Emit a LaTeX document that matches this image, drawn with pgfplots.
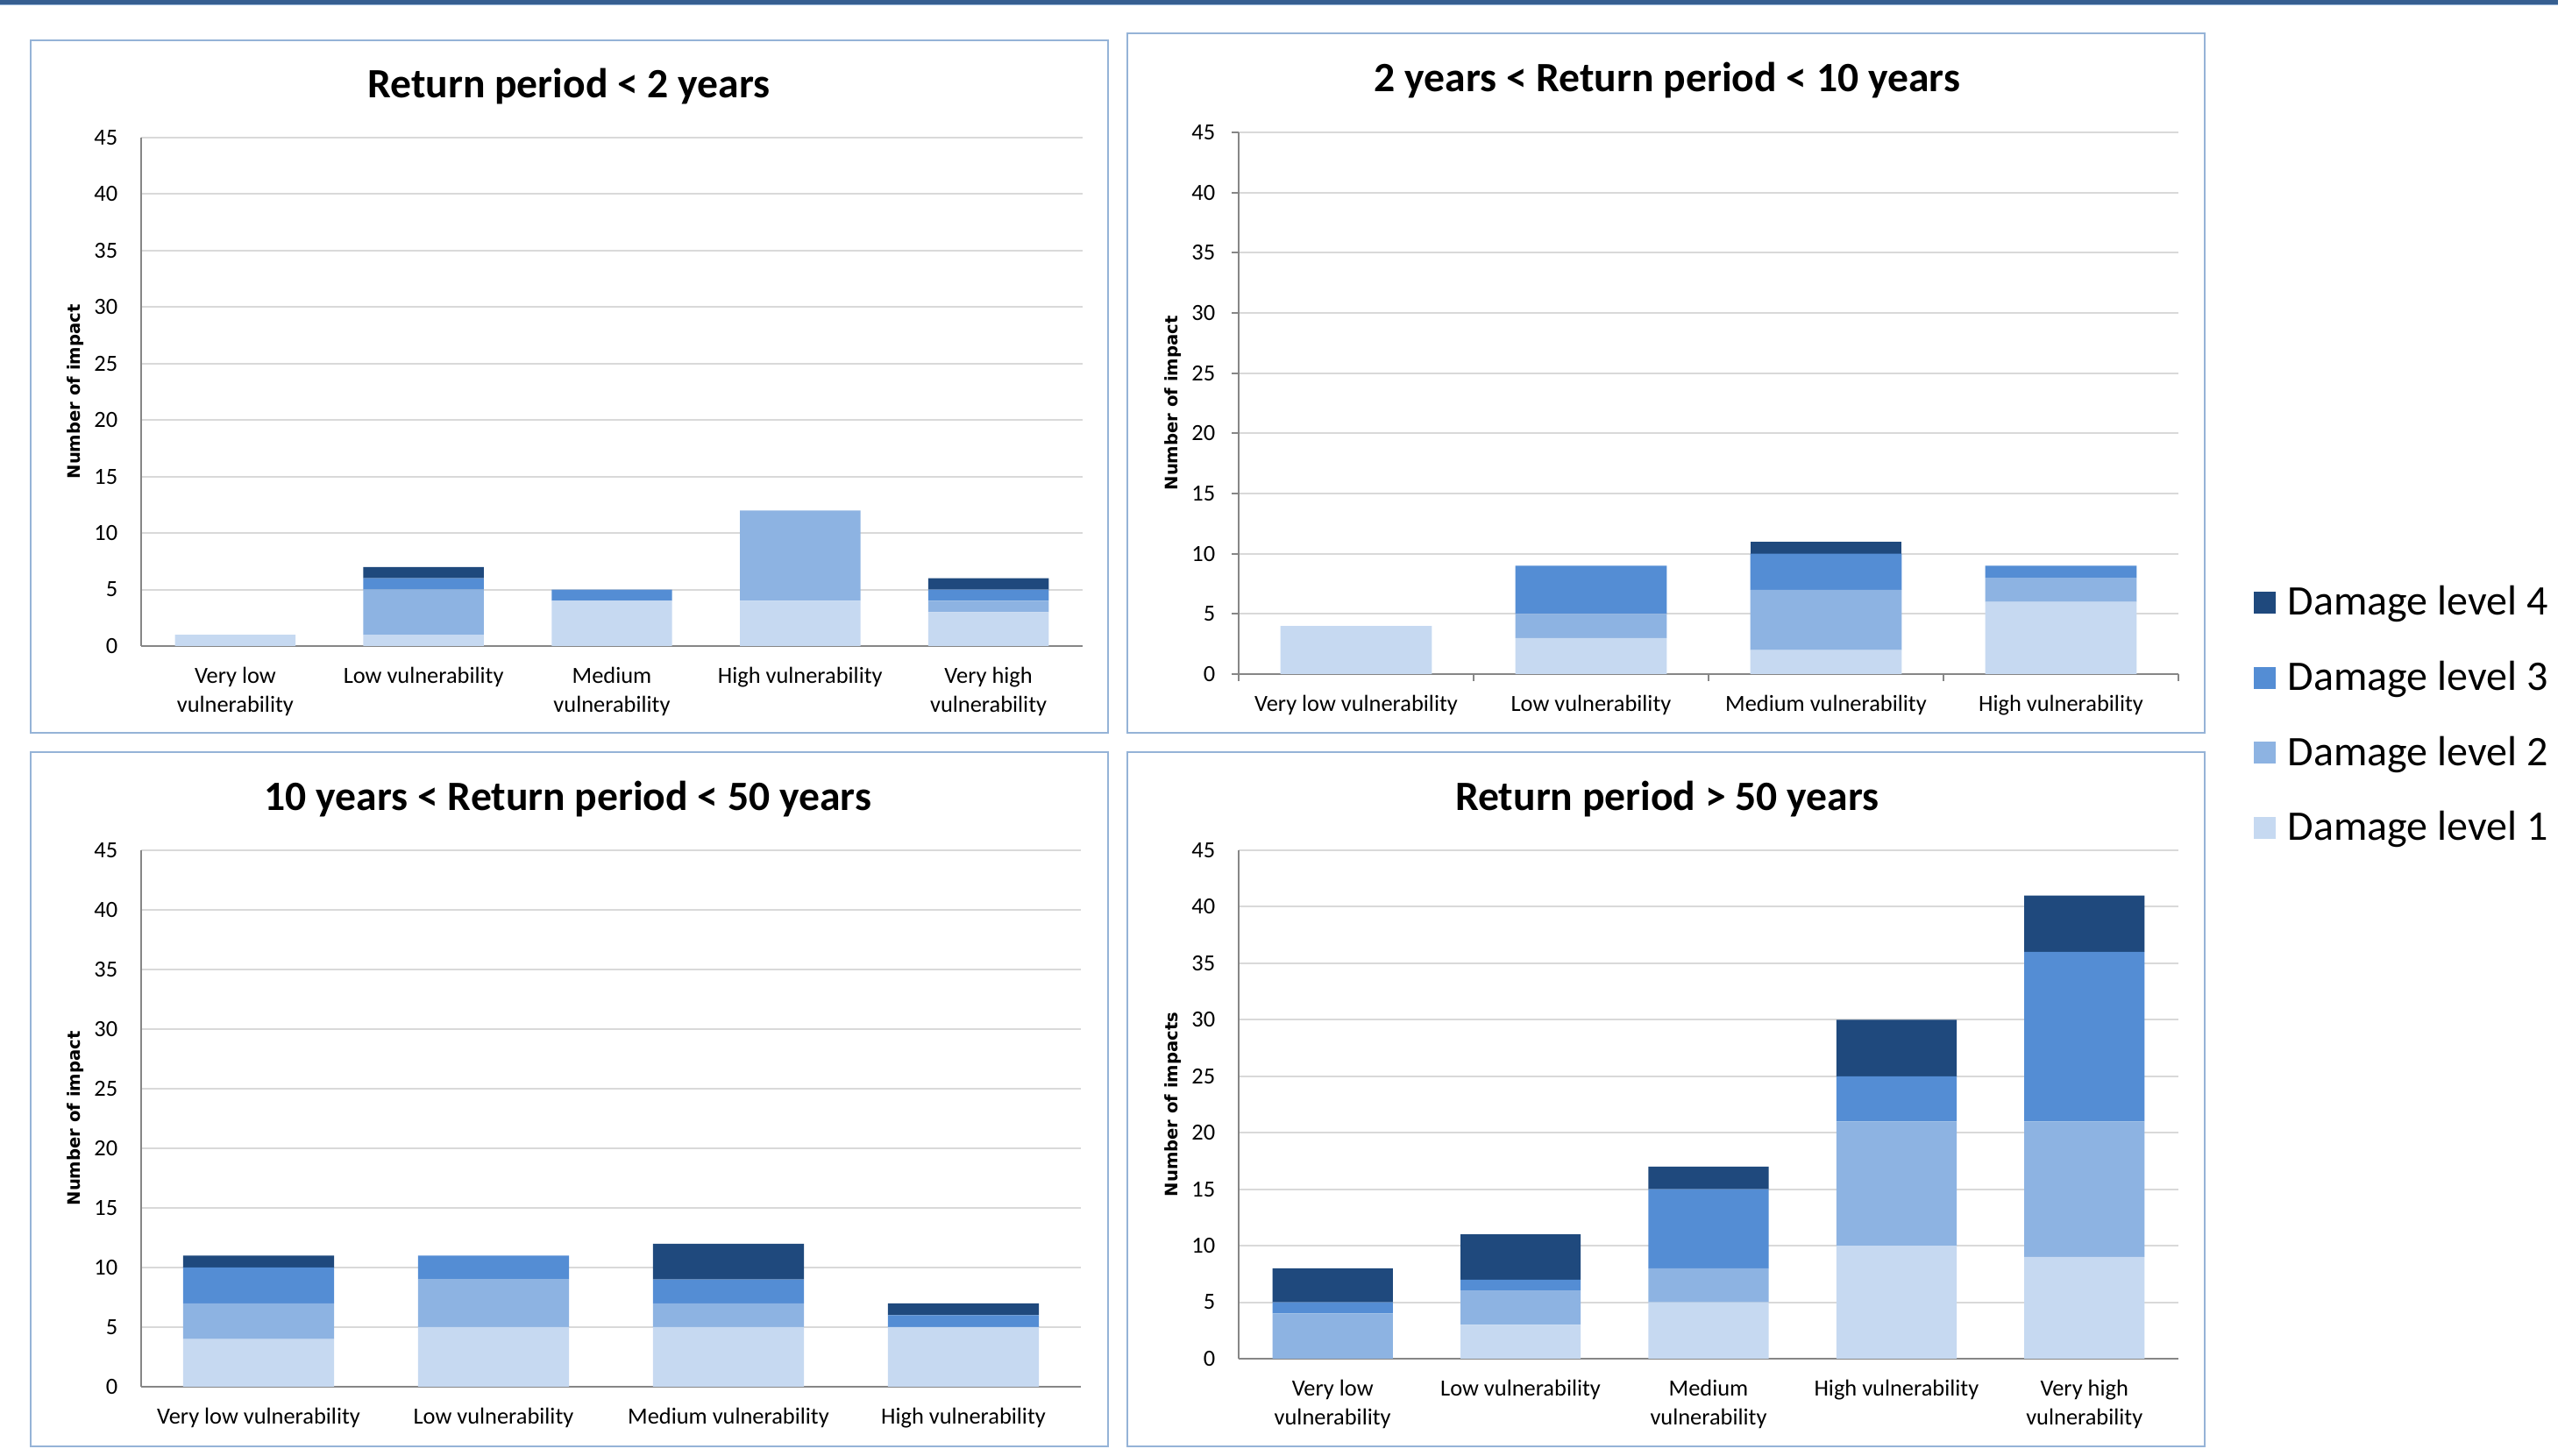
\documentclass[border=0pt]{standalone}
\usepackage{fontspec}
\setmainfont{Carlito}
\newfontfamily\dvsans{DejaVu Sans}
\usepackage{pgfplots}
\usepackage{pgfplotstable}
\pgfplotsset{compat=1.18}
\definecolor{lvA}{HTML}{C6D9F1}
\definecolor{lvB}{HTML}{8DB3E2}
\definecolor{lvC}{HTML}{548DD4}
\definecolor{lvD}{HTML}{1F497D}
\definecolor{framec}{HTML}{95B3D7}
\definecolor{gridc}{HTML}{D9D9D9}
\definecolor{axisc}{HTML}{868686}
\definecolor{topbar}{HTML}{365F91}

\pgfplotstableread{
x l1 l2 l3 l4
0 1 0 0 0
1 1 4 1 1
2 4 0 1 0
3 4 8 0 0
4 3 1 1 1
}\tabA
\pgfplotstableread{
x l1 l2 l3 l4
0 4 0 0 0
1 3 2 4 0
2 2 5 3 1
3 6 2 1 0
}\tabB
\pgfplotstableread{
x l1 l2 l3 l4
0 4 3 3 1
1 5 4 2 0
2 5 2 2 3
3 5 0 1 1
}\tabC
\pgfplotstableread{
x l1 l2 l3 l4
0 0 4 1 3
1 3 3 1 4
2 5 3 7 2
3 10 11 4 5
4 9 12 15 5
}\tabD

\pgfplotsset{
  panel/.style={
    scale only axis,
    anchor=south west,
    ybar stacked,
    ymin=0, ymax=45, ytick={0,5,...,45},
    xmin=-0.5,
    axis x line*=bottom, axis y line*=left,
    axis line style={draw=axisc, line width=0.5pt},
    ymajorgrids, grid style={draw=gridc, line width=0.5pt},
    tick style={draw=none},
    major tick length=0pt,
    /pgf/number format/assume math mode=true,
    ticklabel style={font=\fontsize{6.6}{8.4}\selectfont, inner sep=0pt},
    yticklabel style={anchor=east, xshift=-6.5pt},
    xticklabel style={anchor=north, align=center, yshift=-5.8pt},
    ylabel style={font=\dvsans\bfseries\fontsize{4.9}{6}\selectfont, at={(axis description cs:-0.07,0.5)}, anchor=center},
    title style={font=\bfseries\fontsize{11.9}{14}\selectfont, anchor=center, yshift=-6.5pt},
  },
  lA/.style={fill=lvA, draw=none},
  lB/.style={fill=lvB, draw=none},
  lC/.style={fill=lvC, draw=none},
  lD/.style={fill=lvD, draw=none},
}

\begin{document}
\begin{tikzpicture}
\useasboundingbox (0,0) rectangle (731.5pt,415.25pt);
\fill[topbar] (0,414.1pt) rectangle (729.5pt,415.25pt);
\fill[framec] (0,413.8pt) rectangle (729.5pt,414.1pt);
\draw[framec, line width=0.5pt] (8.75pt,206.25pt) rectangle (316pt,403.75pt);
\draw[framec, line width=0.5pt] (321.5pt,206.25pt) rectangle (628.75pt,405.75pt);
\draw[framec, line width=0.5pt] (8.75pt,2.75pt) rectangle (316pt,200.75pt);
\draw[framec, line width=0.5pt] (321.5pt,2.75pt) rectangle (628.75pt,200.75pt);

% Panel 1
\begin{axis}[panel, at={(40.25pt,231pt)}, width=268.5pt, height=145pt,
  xmax=4.5, bar width=0.64, xtick={0,...,4},
  xticklabels={Very low\\vulnerability, Low vulnerability, Medium\\vulnerability, High vulnerability, Very high\\vulnerability},
  ylabel={Number of impact},
  title={Return period < 2 years},
  title style={at={(axis description cs:0.4544,1.1034)}}]
\addplot[lA] table[x=x,y=l1]{\tabA};
\addplot[lB] table[x=x,y=l2]{\tabA};
\addplot[lC] table[x=x,y=l3]{\tabA};
\addplot[lD] table[x=x,y=l4]{\tabA};
\end{axis}

% Panel 2
\begin{axis}[panel, at={(353.25pt,223pt)}, width=268pt, height=154.5pt,
  xmax=3.5, bar width=0.645, xtick={0,...,3},
  xticklabels={Very low vulnerability, Low vulnerability, Medium vulnerability, High vulnerability},
  tick align=outside,
  ytick style={draw=axisc, line width=0.5pt},
  ytick style={/pgfplots/major tick length=2pt},
  extra x ticks={-0.5,0.5,1.5,2.5,3.5},
  extra x tick labels={},
  extra x tick style={xtick style={draw=axisc, line width=0.5pt, /pgfplots/major tick length=2pt}},
  ylabel={Number of impact},
  title={2 years < Return period < 10 years},
  title style={at={(axis description cs:0.456,1.0987)}},
  reverse legend,
  legend cell align=left,
  legend style={draw=none, fill=none, at={(rel axis cs:1.0793,0.168)}, anchor=north west,
    font=\fontsize{12}{14}\selectfont, row sep=9.4pt, column sep=3.5pt, inner sep=0pt,
    nodes={inner sep=0pt, text height=9pt, text depth=3pt}},
  legend image code/.code={\fill[#1] (0pt,-2.565pt) rectangle (6.25pt,3.685pt);},
  ]
\addplot[lA] table[x=x,y=l1]{\tabB};
\addplot[lB] table[x=x,y=l2]{\tabB};
\addplot[lC] table[x=x,y=l3]{\tabB};
\addplot[lD] table[x=x,y=l4]{\tabB};
\legend{Damage level 1, Damage level 2, Damage level 3, Damage level 4}
\end{axis}

% Panel 3
\begin{axis}[panel, at={(40.25pt,19.75pt)}, width=268pt, height=153pt,
  xmax=3.5, bar width=0.642, xtick={0,...,3},
  xticklabels={Very low vulnerability, Low vulnerability, Medium vulnerability, High vulnerability},
  ylabel={Number of impact},
  title={10 years < Return period < 50 years},
  title style={at={(axis description cs:0.4543,1.098)}}]
\addplot[lA] table[x=x,y=l1]{\tabC};
\addplot[lB] table[x=x,y=l2]{\tabC};
\addplot[lC] table[x=x,y=l3]{\tabC};
\addplot[lD] table[x=x,y=l4]{\tabC};
\end{axis}

% Panel 4
\begin{axis}[panel, at={(353.25pt,27.75pt)}, width=268pt, height=145pt,
  xmax=4.5, bar width=0.64, xtick={0,...,4},
  xticklabels={Very low\\vulnerability, Low vulnerability, Medium\\vulnerability, High vulnerability, Very high\\vulnerability},
  ylabel={Number of impacts},
  title={Return period > 50 years},
  title style={at={(axis description cs:0.456,1.1034)}}]
\addplot[lA] table[x=x,y=l1]{\tabD};
\addplot[lB] table[x=x,y=l2]{\tabD};
\addplot[lC] table[x=x,y=l3]{\tabD};
\addplot[lD] table[x=x,y=l4]{\tabD};
\end{axis}
\end{tikzpicture}
\end{document}
